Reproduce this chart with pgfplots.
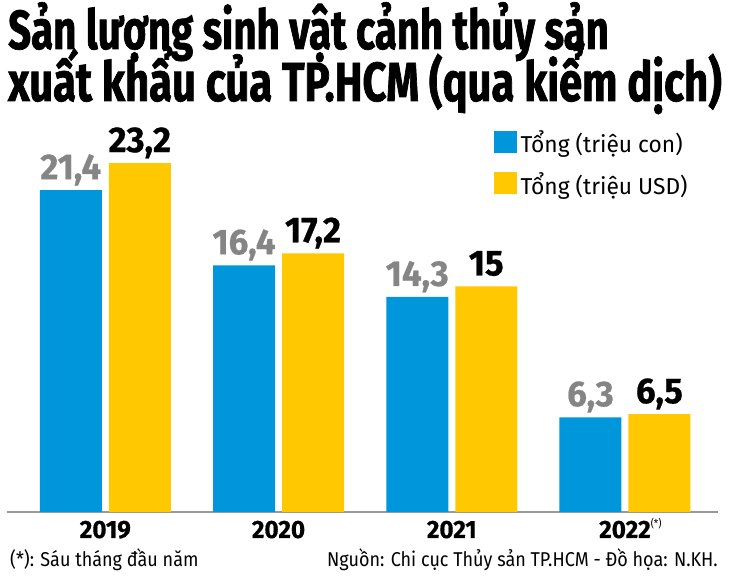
\documentclass[border=0pt]{standalone}
\usepackage{pgfplots}
\pgfplotsset{compat=1.18}
\usepackage{fontspec}
\setmainfont{Fira Sans}
\newfontfamily\titlefont[FakeStretch=0.73, FakeBold=1.2]{Fira Sans}
\newfontfamily\numfont[FakeStretch=0.97, FakeBold=0.6]{Fira Sans}
\newfontfamily\notefont[FakeStretch=0.9]{Fira Sans}
\newfontfamily\legfont[FakeStretch=0.99]{Fira Sans}

\definecolor{conblue}{HTML}{0096DC}
\definecolor{usdyellow}{HTML}{FFC800}
\definecolor{lblgray}{HTML}{858585}
\definecolor{axisgray}{HTML}{9A9A9A}

\begin{document}
\begin{tikzpicture}
  \path[use as bounding box] (0,0) rectangle (730pt,585pt);

  % title
  \node[anchor=base west, inner sep=0pt] at (8pt,536pt)
    {\titlefont\bfseries\fontsize{55}{58}\selectfont Sản lượng sinh vật cảnh thủy sản};
  \node[anchor=base west, inner sep=0pt] at (8pt,484pt)
    {\scalebox{1.04}[1]{\titlefont\bfseries\fontsize{55}{58}\selectfont xuất khẩu của TP.HCM (qua kiểm dịch)}};

  \begin{axis}[
    at={(7pt,73pt)}, anchor=south west,
    scale only axis,
    width=711pt, height=391pt,
    xmin=-0.5675, xmax=3.537,
    ymin=0, ymax=26,
    ybar=7pt,
    bar width=62pt,
    axis y line=none,
    axis x line*=bottom,
    x axis line style={-, draw=axisgray, line width=2pt},
    xtick={0,1,2,3},
    xticklabels={2019,2020,2021,{2022\rlap{\notefont\mdseries\fontsize{11}{12}\selectfont\raisebox{10pt}{(*)}}}},
    major tick length=0pt,
    xticklabel style={anchor=base, yshift=-26pt, font=\numfont\bfseries\fontsize{25}{27}\selectfont},
    ytick=\empty,
    /pgf/number format/use comma,
    /pgf/number format/assume math mode=true,
    nodes near coords,
    nodes near coords style={anchor=base, yshift=11pt, inner sep=0pt,
      font=\numfont\bfseries\fontsize{36}{38}\selectfont},
    legend style={at={(0.68,0.985)}, anchor=north west, draw=none, fill=none,
      font=\legfont\fontsize{23}{26}\selectfont, row sep=14pt,
      /tikz/every even column/.append style={column sep=0pt}},
    legend image code/.code={\fill[#1] (0pt,-10pt) rectangle (23pt,12pt);},
    legend cell align=left,
  ]
    \addplot[fill=conblue, draw=none, every node near coord/.append style={text=lblgray}]
      coordinates {(0,21.4) (1,16.4) (2,14.3) (3,6.3)};
    \addplot[fill=usdyellow, draw=none, every node near coord/.append style={text=black}]
      coordinates {(0,23.2) (1,17.2) (2,15) (3,6.5)};
    \legend{\hspace{2pt}Tổng (triệu con), \hspace{2pt}Tổng (triệu USD)}
  \end{axis}

  % notes
  \node[anchor=base west, inner sep=0pt] at (10pt,18pt)
    {\notefont\fontsize{20}{22}\selectfont (*): Sáu tháng đầu năm};
  \node[anchor=base east, inner sep=0pt] at (718pt,18pt)
    {\notefont\fontsize{20}{22}\selectfont Nguồn: Chi cục Thủy sản TP.HCM - Đồ họa: N.KH.};
\end{tikzpicture}
\end{document}
